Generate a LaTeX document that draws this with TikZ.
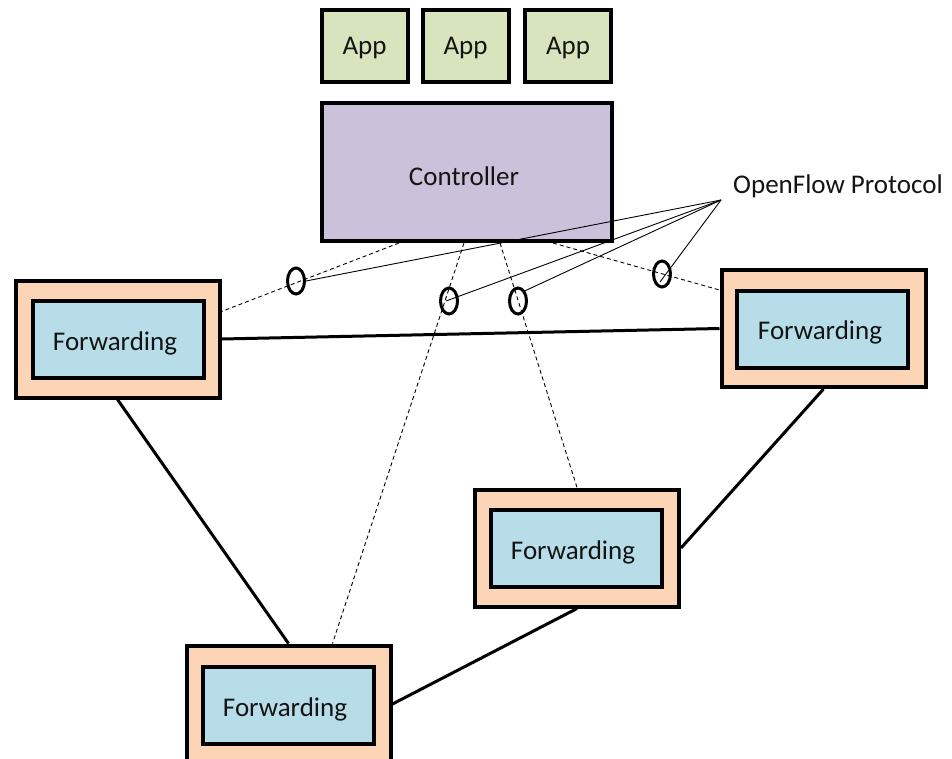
\documentclass[tikz,border=0pt]{standalone}
\usepackage{fontspec}
\setmainfont{Carlito}
\usetikzlibrary{shapes.geometric,calc}
\definecolor{appgreen}{HTML}{D7E4BD}
\definecolor{ctrlpurple}{HTML}{CCC1DA}
\definecolor{peach}{HTML}{FBD5B5}
\definecolor{lightblue}{HTML}{B7DDE8}
\definecolor{inkdark}{HTML}{141414}
\begin{document}
\begin{tikzpicture}[x=1pt,y=-1pt,
  every node/.style={font=\fontsize{27}{32}\selectfont,text=inkdark},
  box/.style={draw=black,line width=4pt,rectangle,inner sep=0pt},
  lowtext/.style={text height=23pt,text depth=5.5pt},
  appbox/.style={box,lowtext,fill=appgreen,minimum width=86pt,minimum height=72pt},
  ctrlbox/.style={box,fill=ctrlpurple,minimum width=290pt,minimum height=138pt},
  fwdouter/.style={box,fill=peach,minimum width=204pt,minimum height=117pt},
  fwdinner/.style={box,fill=lightblue,minimum width=171pt,minimum height=77pt},
  link/.style={line width=3pt},
  ctrllink/.style={line width=0.9pt,dash pattern=on 4pt off 3pt},
  marker/.style={ellipse,draw=black,line width=3pt,minimum width=17pt,minimum height=26pt,inner sep=0pt},
  leader/.style={line width=0.9pt}]
\clip (0,0) rectangle (952,758);
\fill[white] (0,0) rectangle (952,758);

% applications and controller
\node[appbox] (app1) at (364.5,46) {App};
\node[appbox] (app2) at (465.5,46) {App};
\node[appbox] (app3) at (568,46) {App};
\node[ctrlbox] (ctrl) at (467,172) {};
\node (ctrltext) at (464,176) {Controller};

% forwarding elements
\node[fwdouter] (f1) at (117.5,339) {};
\node[fwdinner] (f1in) at (118,339) {};
\node (f1text) at (115,343) {Forwarding};
\node[fwdouter] (f2) at (823.5,328.5) {};
\node[fwdinner] (f2in) at (822.5,329) {};
\node (f2text) at (820,332) {Forwarding};
\node[fwdouter] (f3) at (577,548) {};
\node[fwdinner] (f3in) at (576.5,548.5) {};
\node (f3text) at (573,552) {Forwarding};
\node[fwdouter] (f4) at (288.5,704) {};
\node[fwdinner] (f4in) at (288,705.5) {};
\node (f4text) at (285,709) {Forwarding};

% data-plane links
\draw[link] (f1.east) -- (f2.west);
\draw[link] (f1.south) -- (f4.north);
\draw[link] (f2.south) -- (f3.east);
\draw[link] (f3.south) -- (f4.east);

% control channels
\draw[ctrllink] ($(ctrl.south west)+(79,0)$) -- ([yshift=-33pt]f1.north east);
\draw[ctrllink] ($(ctrl.south west)+(144,0)$) -- ([xshift=44pt]f4.north);
\draw[ctrllink] ($(ctrl.south west)+(180,0)$) -- (f3.north);
\draw[ctrllink] ($(ctrl.south west)+(233,0)$) -- ([yshift=-22pt]f2.north west);

% channel markers
\node[marker] (c1) at (296,281) {};
\node[marker] (c2) at (449,301) {};
\node[marker] (c3) at (518,301) {};
\node[marker] (c4) at (662,274) {};

% protocol label and leaders
\coordinate (of) at (721,200);
\node[anchor=west,inner sep=0pt] (oflabel) at (733,186) {OpenFlow Protocol};
\draw[leader] (of) -- (c1.east);
\draw[leader] (of) -- ([xshift=-3pt]c2.center);
\draw[leader] (of) -- (c3.north east);
\draw[leader] (of) -- ([xshift=-2pt,yshift=-8pt]c4.center);
\end{tikzpicture}
\end{document}
